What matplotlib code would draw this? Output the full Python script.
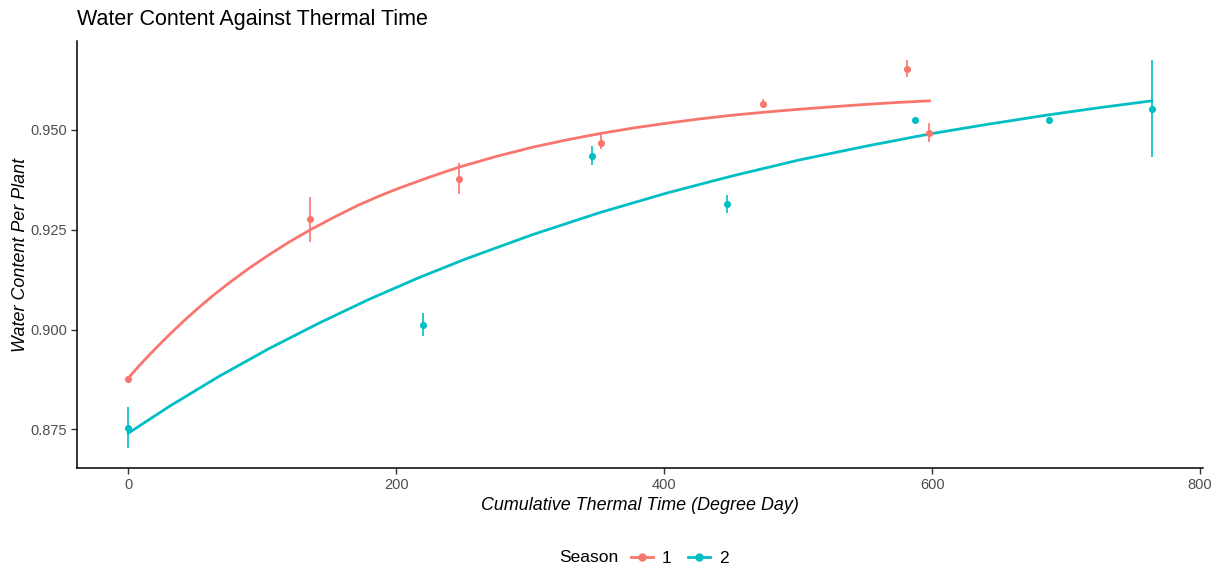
import matplotlib
matplotlib.use("Agg")
import matplotlib.pyplot as plt
from matplotlib.lines import Line2D

plt.rcParams['font.family'] = ['Liberation Sans', 'DejaVu Sans']

# season 1 (mean +- error)
s1_x = [0, 136, 247, 353, 474, 581, 598]
s1_y = [0.8876, 0.9276, 0.9376, 0.9467, 0.9565, 0.9653, 0.9492]
s1_lo = [0.8874, 0.9220, 0.9339, 0.9452, 0.9554, 0.9633, 0.9469]
s1_hi = [0.8878, 0.9331, 0.9417, 0.9490, 0.9578, 0.9675, 0.9517]

# season 2
s2_x = [0, 220, 346, 447, 587, 687, 764]
s2_y = [0.8752, 0.9012, 0.9434, 0.9315, 0.9525, 0.9525, 0.9553]
s2_lo = [0.8704, 0.8984, 0.9412, 0.9293, 0.9523, 0.9523, 0.9433]
s2_hi = [0.8807, 0.9041, 0.9460, 0.9337, 0.9527, 0.9527, 0.9675]

# fitted curves
fit1_x = [0, 6, 12, 20, 31, 42, 53, 64, 75, 90, 105, 120, 136, 154, 172, 187, 202, 225,
          247, 275, 302, 327, 352, 377, 402, 427, 451, 476, 501, 525, 550, 574, 598]
fit1_y = [0.8878, 0.8901, 0.8923, 0.8951, 0.8988, 0.9023, 0.9056, 0.9087, 0.9116, 0.9153,
          0.9187, 0.9219, 0.9250, 0.9282, 0.9312, 0.9334, 0.9354, 0.9382,
          0.9407, 0.9434, 0.9457, 0.9475, 0.9491, 0.9505, 0.9517, 0.9528, 0.9537,
          0.9545, 0.9552, 0.9558, 0.9564, 0.9569, 0.9573]
fit2_x = [0, 31, 68, 105, 143, 180, 217, 252, 302, 352, 402, 451, 501, 550, 598, 641, 685, 725, 764]
fit2_y = [0.8740, 0.8808, 0.8883, 0.8952, 0.9017, 0.9076, 0.9130, 0.9177, 0.9238, 0.9293,
          0.9342, 0.9385, 0.9425, 0.9459, 0.9490, 0.9514, 0.9537, 0.9556, 0.9573]

seasons = ["1", "2"]
colors = ["#F8766D", "#00BFC4"]

W, H = 1221, 570
fig = plt.figure(figsize=(W / 100, H / 100), dpi=100)
ax = fig.add_axes([77 / W, (H - 468) / H, (1203 - 77) / W, (468 - 41) / H])

series = [(s1_x, s1_y, s1_lo, s1_hi, fit1_x, fit1_y),
          (s2_x, s2_y, s2_lo, s2_hi, fit2_x, fit2_y)]
for (x, y, lo, hi, fx, fy), c in zip(series, colors):
    ax.plot(fx, fy, color=c, lw=2.0, zorder=2)
    ax.vlines(x, lo, hi, color=c, lw=1.4, alpha=0.85, zorder=3)
    ax.scatter(x, y, s=26, color=c, zorder=4, linewidths=0)

ax.set_xlim(-38.2, 802.2)
ax.set_ylim(0.8653, 0.9723)
ax.set_xticks([0, 200, 400, 600, 800])
ax.set_yticks([0.875, 0.900, 0.925, 0.950])
ax.set_yticklabels(["0.875", "0.900", "0.925", "0.950"])
for s in ["top", "right"]:
    ax.spines[s].set_visible(False)
for s in ["left", "bottom"]:
    ax.spines[s].set_color("black")
    ax.spines[s].set_linewidth(1.1)
ax.tick_params(length=4, width=1, color="#333333", labelcolor="#4D4D4D", labelsize=10.5, pad=3)

ax.set_xlabel("Cumulative Thermal Time (Degree Day)", style="italic", fontsize=12.9, labelpad=4)
ax.set_ylabel("Water Content Per Plant", style="italic", fontsize=12.9, labelpad=1)
fig.text(77 / W, 1 - 20 / H, "Water Content Against Thermal Time", fontsize=15.5, va="center", ha="left")

# legend at the bottom
fig.text(559 / W, 1 - 558 / H, "Season", fontsize=12.5, va="center", ha="left")
handles = [Line2D([], [], color=c, lw=2, marker="o", markersize=5) for c in colors]
fig.legend(handles, seasons, loc="center left", bbox_to_anchor=(631 / W, 1 - 558 / H),
           ncol=2, frameon=False, fontsize=12.5, handlelength=1.25, handletextpad=0.5,
           columnspacing=1.0, borderpad=0, borderaxespad=0)

fig.savefig("out.png", dpi=100)
